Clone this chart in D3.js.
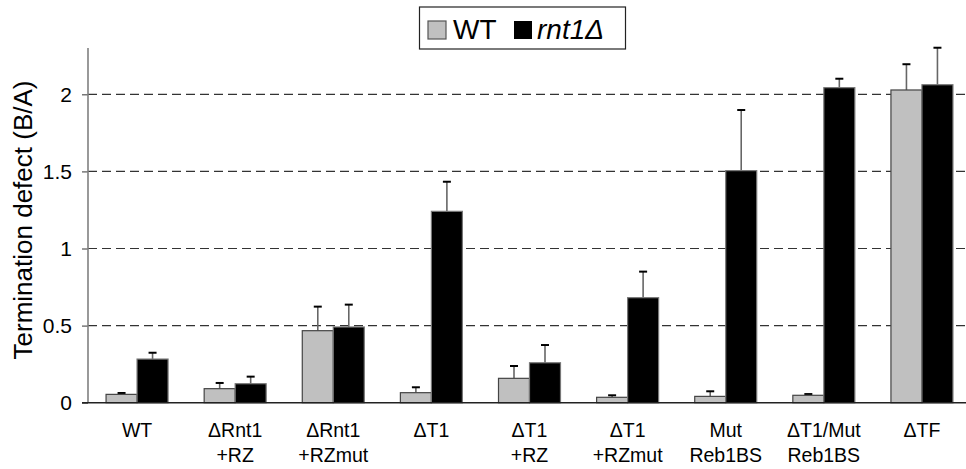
<!DOCTYPE html>
<html>
<head>
<meta charset="utf-8">
<script src="https://cdn.jsdelivr.net/npm/d3@7"></script>
<style>
  html, body { margin: 0; padding: 0; background: #fff; }
  svg { display: block; font-family: Arial, "Liberation Sans", sans-serif; }
</style>
</head>
<body>
<svg id="chart" width="966" height="469"></svg>
<script>
const categories = [
  ["WT"], ["ΔRnt1", "+RZ"], ["ΔRnt1", "+RZmut"], ["ΔT1"], ["ΔT1", "+RZ"],
  ["ΔT1", "+RZmut"], ["Mut", "Reb1BS"], ["ΔT1/Mut", "Reb1BS"], ["ΔTF"]
];
const seriesNames = ["WT", "rnt1Δ"];
const wtValues   = [0.054, 0.091, 0.467, 0.065, 0.158, 0.035, 0.041, 0.048, 2.028];
const wtErr      = [0.009, 0.037, 0.156, 0.035, 0.080, 0.013, 0.033, 0.008, 0.167];
const rntValues  = [0.283, 0.123, 0.491, 1.241, 0.259, 0.681, 1.505, 2.043, 2.062];
const rntErr     = [0.041, 0.046, 0.145, 0.192, 0.115, 0.169, 0.393, 0.058, 0.240];
const yTicks = [0, 0.5, 1, 1.5, 2];

const svg = d3.select("#chart");
const x0 = 88, x1 = 971, yZero = 402.7, yTop = 48;
const y = d3.scaleLinear().domain([0, 2.3]).range([yZero, yZero - 2.3 * 154.2]);
const xb = d3.scaleBand().domain(d3.range(categories.length)).range([x0, x1]).paddingInner(0).paddingOuter(0);
const barW = 31;

// gridlines
svg.append("g").selectAll("line").data(yTicks.filter(d => d > 0)).join("line")
  .attr("x1", x0).attr("x2", 966)
  .attr("y1", d => y(d)).attr("y2", d => y(d))
  .attr("stroke", "#333").attr("stroke-width", 1.2).attr("stroke-dasharray", "9,5");

// y axis
const yAxis = d3.axisLeft(y).tickValues(yTicks).tickSize(6).tickPadding(10)
  .tickFormat(d => d3.format("")(d));
const ga = svg.append("g").attr("transform", `translate(${x0},0)`).call(yAxis);
ga.select(".domain").remove();
ga.selectAll(".tick line").attr("stroke", "#555").attr("stroke-width", 1.2);
ga.selectAll(".tick text").attr("font-size", 21).attr("fill", "#000")
  .attr("font-family", "Arial, 'Liberation Sans', sans-serif");
svg.append("line").attr("x1", x0).attr("x2", x0).attr("y1", yTop).attr("y2", yZero)
  .attr("stroke", "#808080").attr("stroke-width", 1.6);

// bars
const groups = svg.append("g").selectAll("g").data(categories).join("g")
  .attr("transform", (d, i) => `translate(${xb(i) + xb.bandwidth() / 2},0)`);

function drawSeries(vals, errs, fill, stroke, offset) {
  groups.append("line")
    .attr("x1", offset + barW / 2).attr("x2", offset + barW / 2)
    .attr("y1", (d, i) => y(vals[i])).attr("y2", (d, i) => y(vals[i] + errs[i]))
    .attr("stroke", "#666").attr("stroke-width", 1.6);
  groups.append("line")
    .attr("x1", offset + barW / 2 - 4).attr("x2", offset + barW / 2 + 4)
    .attr("y1", (d, i) => y(vals[i] + errs[i])).attr("y2", (d, i) => y(vals[i] + errs[i]))
    .attr("stroke", "#000").attr("stroke-width", 2);
  groups.append("rect")
    .attr("x", offset).attr("width", barW)
    .attr("y", (d, i) => y(vals[i])).attr("height", (d, i) => yZero - y(vals[i]))
    .attr("fill", fill).attr("stroke", stroke).attr("stroke-width", 1.2);
}
drawSeries(wtValues, wtErr, "#c0c0c0", "#444", -barW);
drawSeries(rntValues, rntErr, "#000", "#777", 0);

// x axis line
svg.append("line").attr("x1", 82).attr("x2", 966).attr("y1", yZero).attr("y2", yZero)
  .attr("stroke", "#222").attr("stroke-width", 1.6);

// x labels
const xl = svg.append("g").selectAll("text").data(categories).join("text")
  .attr("x", (d, i) => xb(i) + xb.bandwidth() / 2)
  .attr("text-anchor", "middle").attr("font-size", 19.5).attr("fill", "#000");
xl.selectAll("tspan").data(d => d).join("tspan")
  .attr("x", function() { return d3.select(this.parentNode).attr("x"); })
  .attr("y", (d, j) => 436.5 + j * 25)
  .text(d => d);

// y label
svg.append("text").attr("transform", "translate(32,220) rotate(-90)")
  .attr("text-anchor", "middle").attr("font-size", 26).attr("fill", "#000")
  .text("Termination defect (B/A)");

// legend
const lg = svg.append("g");
lg.append("rect").attr("x", 419.5).attr("y", 7).attr("width", 206).attr("height", 42)
  .attr("fill", "#fff").attr("stroke", "#222").attr("stroke-width", 1.2);
lg.append("rect").attr("x", 428).attr("y", 21).attr("width", 18).attr("height", 18)
  .attr("fill", "#c0c0c0").attr("stroke", "#555").attr("stroke-width", 1.2);
lg.append("text").attr("x", 453).attr("y", 39).attr("font-size", 28).text(seriesNames[0]);
lg.append("rect").attr("x", 514).attr("y", 21).attr("width", 18).attr("height", 18)
  .attr("fill", "#000");
lg.append("text").attr("x", 537).attr("y", 39).attr("font-size", 28)
  .attr("font-style", "italic").text(seriesNames[1]);
</script>
</body>
</html>
